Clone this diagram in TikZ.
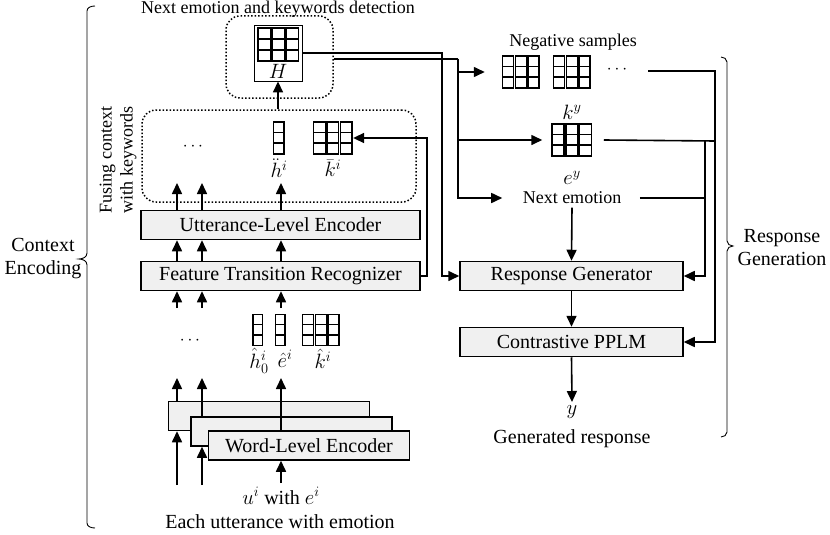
\documentclass[tikz,border=0pt]{standalone}
\usepackage{fontspec}
\setmainfont{Liberation Serif}
\usetikzlibrary{arrows.meta,calc}
\newcommand{\cellgrid}[6]{%
  \node[inner sep=0pt, minimum width={#4*#5*1pt}, minimum height={#6*1pt}] (#1) at (#2,#3) {};
  \foreach \ci in {1,...,#4}{%
    \draw[cell] ($(#1.north west)+({(\ci-1)*#5+0.8},0)$) rectangle ++({#5-1.6},#6);
    \draw[cell] ($(#1.north west)+({(\ci-1)*#5+0.8},{#6/3})$) -- ++({#5-1.6},0);
    \draw[cell] ($(#1.north west)+({(\ci-1)*#5+0.8},{2*#6/3})$) -- ++({#5-1.6},0);
  }}
\begin{document}
\begin{tikzpicture}[x=1pt,y=-1pt,
  every node/.style={font=\fontsize{20}{23}\selectfont},
  box/.style={draw, line width=1.5pt, fill=black!6, inner sep=0pt, minimum height=29pt},
  conn/.style={line width=1.6pt},
  arr/.style={conn, -{Triangle[length=11pt,width=10pt]}},
  cell/.style={line width=1.5pt},
  dotbox/.style={draw, dotted, line width=1.5pt, rounded corners=14pt, inner sep=0pt},
  small/.style={font=\fontsize{18}{21}\selectfont},
  lab/.style={inner sep=1pt},
  brc/.style={line width=0.9pt}]
\useasboundingbox (0,0) rectangle (830,535);

% ---- top: H
\node[small] (title) at (278,9) {Next emotion and keywords detection};
\node[dotbox, minimum width=107pt, minimum height=82pt] (Hdot) at (279.5,57) {};
\node[draw, line width=0.9pt, minimum width=48pt, minimum height=56pt, inner sep=0pt] (Hbox) at (278,53) {};
\cellgrid{Hgrid}{278.5}{44.5}{3}{14}{33}
\node[lab] (Hlab) at (278,71) {$H$};

% ---- fusing box
\node[dotbox, minimum width=274pt, minimum height=92pt] (Fuse) at (279,156) {};
\node[small, rotate=90, align=center] (fuselab) at (118,160) {Fusing context\\with keywords};
\node[small] (dots1) at (193,147) {$\cdots$};
\cellgrid{hdd}{279}{138}{1}{12}{32}
\node[lab] (hddlab) at (279,168) {$\ddot{h}^i$};
\cellgrid{kbar}{333}{138}{3}{13.3}{32}
\node[lab] (kbarlab) at (333,168) {$\bar{k}^i$};

% ---- encoders
\node[box, minimum width=279pt] (ULE) at (280.5,225) {Utterance-Level Encoder};
\node[box, minimum width=279pt] (FTR) at (280.5,276) {Feature Transition Recognizer};

\foreach \x/\n in {177/a,202/b,281/c}{
  \coordinate (u\n) at (\x,183);
  \coordinate (f\n) at (\x,308);
  \draw[arr] (ULE.north -| u\n) -- (u\n);
  \draw[arr] (FTR.north -| u\n) -- (ULE.south -| u\n);
  \draw[arr] (f\n) -- (FTR.south -| f\n);
}
\draw[arr] (Hbox.south |- Fuse.north) -- (Hbox.south);

% ---- word level features
\cellgrid{h0}{258}{330}{1}{11}{31}
\cellgrid{ehat}{280.5}{330}{1}{11}{31}
\cellgrid{khat}{321}{330}{3}{12.7}{31}
\node[lab] (h0lab) at (259,361) {$\hat{h}_0^i$};
\node[lab] (ehatlab) at (285,359) {$\hat{e}^i$};
\node[lab] (khatlab) at (323,359) {$\hat{k}^i$};
\node[small] (dots2) at (190,341) {$\cdots$};

\node[box, minimum width=201pt] (W1) at (269,416) {};
\node[box, minimum width=201pt] (W2) at (291.5,431.5) {};
\node[box, minimum width=201pt] (W3) at (309,445.5) {Word-Level Encoder};

\coordinate (wa) at (177,378);
\coordinate (wb) at (202,378);
\coordinate (wc) at (281,378);
\draw[arr] (W1.north -| wa) -- (wa);
\draw[arr] (W2.north -| wb) -- (wb);
\draw[arr] (W3.north -| wc) -- (wc);
\coordinate (ia) at (177,485);
\coordinate (ib) at (202,485);
\coordinate (ic) at (281,483);
\draw[arr] (ia) -- (W1.south -| ia);
\draw[arr] (ib) -- (W2.south -| ib);
\draw[arr] (ic) -- (W3.south -| ic);
\node (uin) at (281,496) {$u^i$ with $e^i$};
\node (each) at (280,522) {Each utterance with emotion};

% ---- right side
\node[small] (negtitle) at (573,42) {Negative samples};
\cellgrid{neg1}{521}{72}{3}{12.7}{32}
\cellgrid{neg2}{572}{72}{3}{12.7}{32}
\node[small] (negdots) at (617,70) {$\cdots$};
\node[lab] (kylab) at (572,112) {$k^y$};
\cellgrid{ky}{572}{140}{3}{13.7}{32}
\node[lab] (eylab) at (572,178) {$e^y$};
\node[small] (nextemo) at (572,198) {Next emotion};
\node[box, minimum width=223pt] (RG) at (571.5,276) {Response Generator};
\node[box, minimum width=223pt] (CP) at (571.5,342) {Contrastive PPLM};
\node (ylab) at (572,412) {$y$};
\node (gen) at (572,439) {Generated response};

% ---- connectors
\coordinate (c1) at (442,53);
\draw[arr] (Hbox.east) -- (c1) |- (RG.west);
\coordinate (c2) at (458,59);
\draw[conn] (Hdot.east |- c2) -- (c2);
\draw[arr] (c2) |- ([xshift=-17pt]neg1.west);
\draw[arr] (c2) |- ([xshift=-9pt]ky.west);
\draw[arr] (c2) |- ([xshift=-17pt]nextemo.west);
\coordinate (c3) at (427,138);
\draw[arr] (FTR.east) -| (c3) -- (kbar.east);
\draw[arr] (nextemo.south) -- (RG.north);
\draw[arr] (RG.south) -- (CP.north);
\draw[arr] (CP.south) -- (ylab.north);
\coordinate (n0) at (648,71);
\coordinate (c4) at (715,71);
\draw[arr] (n0) -- (c4) |- (CP.east);
\coordinate (c5) at (705,141);
\coordinate (c6) at (715,141);
\draw[conn] ([xshift=11pt]ky.east) -- (c6);
\draw[arr] (c5) |- (RG.east);
\draw[conn] ([xshift=15pt]nextemo.east) -- (nextemo.east -| c5);

% ---- braces
\draw[brc] (721,57) to[out=0,in=90] (727,62) -- (727,241) to[out=-90,in=180] (733,246)
  to[out=180,in=90] (727,251) -- (727,432) to[out=-90,in=0] (721,437);
\node[align=center] (rglab) at (782,248) {Response\\Generation};
\draw[brc] (95,6) to[out=180,in=90] (87,11) -- (87,253) to[out=-90,in=0] (79,259)
  to[out=0,in=90] (87,265) -- (87,523) to[out=-90,in=180] (95,528);
\node[align=center] (celab) at (43,259) {Context\\Encoding};
\end{tikzpicture}
\end{document}
